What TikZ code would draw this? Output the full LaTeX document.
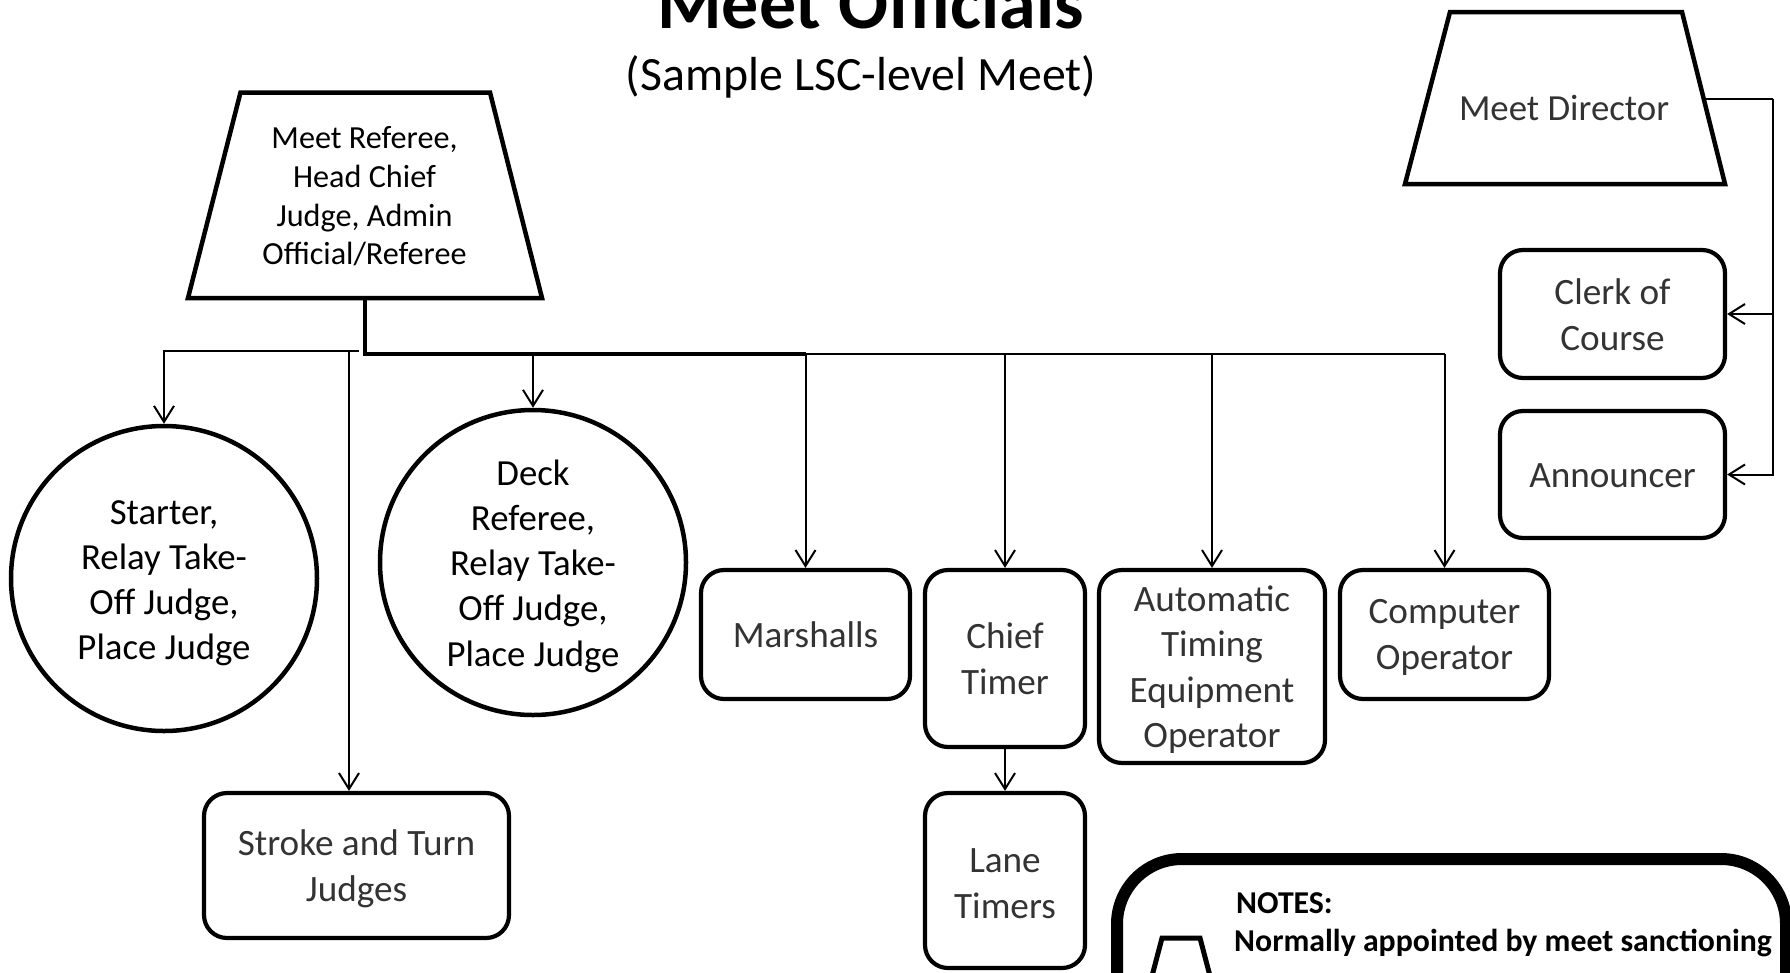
\documentclass[tikz,border=0pt]{standalone}
\usepackage{fontspec}
\setmainfont{Carlito}
\usetikzlibrary{shapes.geometric,arrows.meta}
\definecolor{boxtxt}{HTML}{333333}
\begin{document}
\begin{tikzpicture}[x=1pt,y=-1pt,
  bx/.style={draw, line width=4.2pt, rounded corners=23pt, inner sep=0pt},
  bxlbl/.style={text=boxtxt, align=center, inner sep=0pt, font=\fontsize{37.2}{45.5}\selectfont},
  ell/.style={draw, ellipse, line width=4.5pt, inner sep=0pt, minimum width=306pt, minimum height=305pt},
  elllbl/.style={align=center, inner sep=0pt, font=\fontsize{36.8}{45.1}\selectfont},
  trapline/.style={line width=4.5pt, line join=miter},
  conn/.style={line width=2pt},
  thickconn/.style={line width=4.5pt},
  arr/.style={line width=2pt, -{Straight Barb[length=16pt,width=20pt]}},
]
\useasboundingbox (0,0) rectangle (1790,972);
\clip (0,0) rectangle (1790,972);

% titles
\node[font=\bfseries\fontsize{74}{80}\selectfont, anchor=base, inner sep=0pt] (title) at (870.5,28) {Meet Officials};
\node[font=\fontsize{47.8}{52}\selectfont, anchor=base, inner sep=0pt] (sub) at (861,90) {(Sample LSC-level Meet)};

% trapezia (drawn as paths, text as nodes)
\draw[trapline] (188,298) -- (240.5,92.5) -- (490,92.5) -- (542,298) -- cycle;
\coordinate (mrb) at (365,298);
\node[align=center, inner sep=0pt, font=\fontsize{32.2}{38.6}\selectfont] (mr) at (364.5,196.5) {Meet Referee,\\Head Chief\\Judge, Admin\\Official/Referee};
\draw[trapline] (1405,184) -- (1450,12) -- (1682,12) -- (1725,184) -- cycle;
\coordinate (mde) at (1704,99);
\node[text=boxtxt, font=\fontsize{36.8}{44}\selectfont, anchor=base, inner sep=0pt] (md) at (1564,120) {Meet Director};

% ellipses
\node[ell, label={[name=stl, elllbl, yshift=-4.5pt]center:{Starter,\\Relay Take-\\Off Judge,\\Place Judge}}] (st) at (164,578.5) {};
\node[ell, label={[name=drl, elllbl, yshift=-3.7pt]center:{Deck\\Referee,\\Relay Take-\\Off Judge,\\Place Judge}}] (dr) at (533,562.5) {};

% boxes
\node[bx, minimum width=225pt, minimum height=128pt, label={[name=clkl, bxlbl, yshift=-0.5pt]center:{Clerk of\\Course}}] (clk) at (1612.5,314) {};
\node[bx, minimum width=225pt, minimum height=127pt, label={[name=annl, bxlbl, yshift=-1pt]center:{Announcer}}] (ann) at (1612.5,474.5) {};
\node[bx, minimum width=209pt, minimum height=129pt, label={[name=marl, bxlbl]center:{Marshalls}}] (mar) at (805.5,634.5) {};
\node[bx, minimum width=160pt, minimum height=177pt, label={[name=chtl, bxlbl]center:{Chief\\Timer}}] (cht) at (1005,658.5) {};
\node[bx, minimum width=226pt, minimum height=193pt, label={[name=atol, bxlbl, yshift=-3pt]center:{Automatic\\Timing\\Equipment\\Operator}}] (ato) at (1212,666.5) {};
\node[bx, minimum width=209pt, minimum height=129pt, label={[name=copl, bxlbl, yshift=-3pt]center:{Computer\\Operator}}] (cop) at (1444.5,634.5) {};
\node[bx, minimum width=160pt, minimum height=175pt, label={[name=lntl, bxlbl, yshift=-3pt]center:{Lane\\Timers}}] (lnt) at (1005,880.5) {};
\node[bx, minimum width=305pt, minimum height=145pt, label={[name=stjl, bxlbl, yshift=-3.5pt]center:{Stroke and Turn\\Judges}}] (stj) at (356.5,865.5) {};

% connectors
\coordinate (j) at (365,354);
\coordinate (jl) at (359,351);
\coordinate (js) at (349,351);
\draw[thickconn] (mrb) -- (mrb |- j) -- (j -| mar.north);
\draw[conn] (j -| mar.north) -- (j -| cop.north);
\draw[arr] (j -| mar.north) -- (mar.north);
\draw[arr] (j -| cht.north) -- (cht.north);
\draw[arr] (j -| ato.north) -- (ato.north);
\draw[arr] (j -| cop.north) -- (cop.north);
\draw[arr] (j -| dr.north) -- (dr.north);
\draw[arr] (jl) -| (st.north);
\draw[arr] (js) -- (js |- stj.north);
\draw[arr] (cht.south) -- (lnt.north);

\coordinate (mdx) at (1773,99);
\draw[conn] (mde) -- (mdx);
\draw[arr] (mdx) |- (clk.east);
\draw[arr] (mdx) |- (ann.east);

% notes
\draw[line width=12pt, rounded corners=65pt] (1117,1200) rectangle (1786,859);
\draw[line width=5pt] (1147,995) -- (1162,938) -- (1200,938) -- (1215,995);
\node[font=\bfseries\fontsize{31.8}{38.8}\selectfont, anchor=base west, inner sep=0pt] (nh) at (1236,913) {NOTES:};
\node[font=\bfseries\fontsize{31.8}{38.8}\selectfont, anchor=base west, inner sep=0pt] (n1) at (1234,951) {Normally appointed by meet sanctioning};
\end{tikzpicture}
\end{document}
